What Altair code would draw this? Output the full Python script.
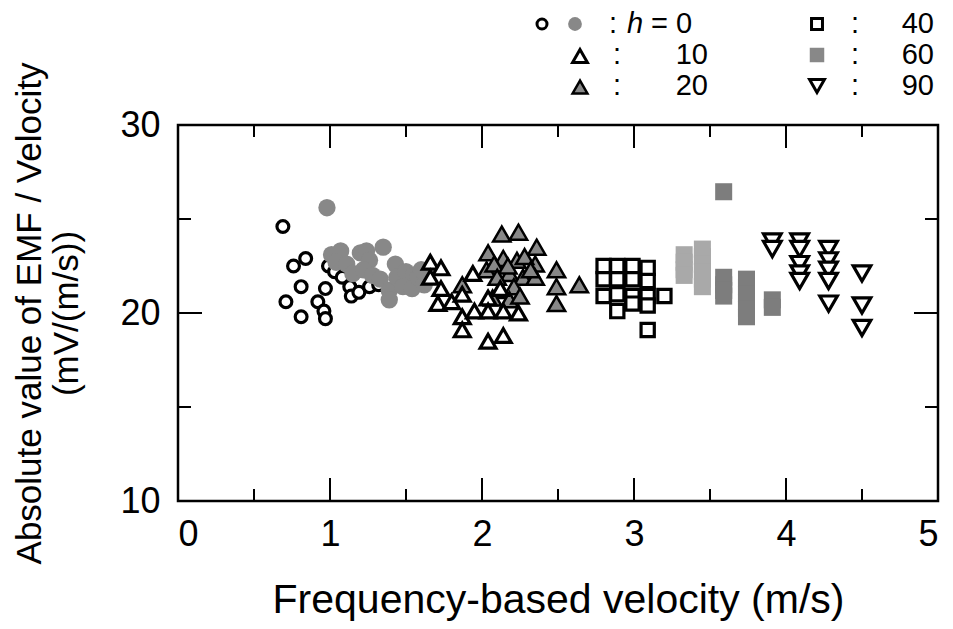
import altair as alt
import pandas as pd

FONT = "Liberation Sans"

# ---- data ----
h0_open_x = [0.69, 0.76, 0.84, 0.81, 0.71, 0.81, 0.97, 0.92, 0.96, 0.97, 0.99, 1.03, 1.08, 1.13, 1.14, 1.19, 1.26, 1.32]
h0_open_y = [24.6, 22.5, 22.9, 21.4, 20.6, 19.8, 21.3, 20.6, 20.1, 19.7, 22.5, 22.2, 21.9, 21.4, 20.9, 21.1, 21.4, 21.5]

h0_fill_x = [0.98, 1.01, 1.07, 1.04, 1.11, 1.15, 1.20, 1.24, 1.26, 1.35, 1.22, 1.28, 1.33, 1.39,
             1.43, 1.44, 1.50, 1.55, 1.48, 1.39, 1.54, 1.58, 1.62, 1.60]
h0_fill_y = [25.6, 23.1, 23.3, 22.7, 22.6, 22.1, 23.2, 23.3, 22.8, 23.5, 22.3, 22.0, 21.8, 21.2,
             22.6, 21.9, 22.2, 22.0, 21.4, 20.7, 21.3, 21.9, 21.5, 22.3]

h10_x = [1.66, 1.73, 1.66, 1.73, 1.71, 1.80, 1.94, 1.87, 1.87, 1.87, 1.95, 2.04, 2.04, 2.14, 2.24, 2.04, 2.14, 2.12]
h10_y = [22.7, 22.4, 21.9, 21.3, 20.5, 20.6, 22.1, 21.0, 19.8, 19.1, 20.1, 20.8, 20.1, 20.1, 20.0, 18.5, 18.8, 21.3]

h20_x = [2.13, 2.24, 2.36, 2.04, 2.14, 2.23, 2.35, 2.03, 2.18, 2.27, 2.35, 1.87, 2.21, 2.12, 2.07,
         2.18, 2.25, 2.49, 2.49, 2.49, 2.64, 2.08, 2.28, 2.32, 2.17, 2.10]
h20_y = [24.2, 24.3, 23.5, 23.2, 22.9, 22.8, 22.6, 22.3, 22.1, 21.9, 21.9, 21.5, 21.4, 21.2, 20.8,
         20.7, 20.9, 22.3, 21.4, 20.5, 21.5, 22.6, 23.0, 22.3, 22.5, 21.9]

h40_x = [2.80, 2.89, 2.99, 3.09, 2.80, 2.89, 2.99, 3.09, 2.80, 2.89, 2.99, 3.09, 3.20, 2.89, 2.99, 3.09, 3.09]
h40_y = [22.5, 22.5, 22.5, 22.4, 21.8, 21.8, 21.8, 21.7, 20.9, 21.0, 20.9, 20.9, 20.9, 20.1, 20.5, 20.4, 19.1]

h60_x = [3.33, 3.33, 3.33, 3.33, 3.45, 3.45, 3.45, 3.45, 3.45, 3.45, 3.59, 3.59, 3.59, 3.59, 3.59,
         3.74, 3.74, 3.74, 3.74, 3.74, 3.74, 3.91, 3.91]
h60_y = [23.1, 22.7, 22.3, 22.0, 23.4, 23.0, 22.6, 22.2, 21.8, 21.4, 26.45, 21.9, 21.5, 21.2, 20.9,
         21.8, 21.4, 21.0, 20.6, 20.2, 19.8, 20.7, 20.3]

h90_x = [3.91, 3.91, 4.09, 4.09, 4.09, 4.09, 4.09, 4.28, 4.28, 4.28, 4.28, 4.28, 4.50, 4.50, 4.50]
h90_y = [23.8, 23.4, 23.8, 23.4, 22.6, 22.1, 21.7, 23.4, 22.8, 22.3, 21.7, 20.5, 22.1, 20.4, 19.2]

x_ticks = [0, 1, 2, 3, 4, 5]
y_ticks = [10, 20, 30]
x_major = [1, 2, 3, 4]
x_minor = [0.5, 1.5, 2.5, 3.5, 4.5]
y_major = [20]
y_minor = [15, 25]

x_title = "Frequency-based velocity (m/s)"
y_title = ["Absolute value of EMF / Velocity", "(mV/(m/s))"]

W, H = 760, 376
GRAY = "#888888"

xs = alt.Scale(domain=[0, 5], nice=False, zero=False)
ys = alt.Scale(domain=[10, 30], nice=False, zero=False)

x_axis = alt.Axis(values=x_ticks, title=x_title, grid=False, ticks=False, domain=False,
                  labelFont=FONT, labelFontSize=36, labelColor="black", labelPadding=16,
                  titleFont=FONT, titleFontSize=41, titleFontWeight="normal", titleColor="black",
                  titleBaseline="alphabetic", titleY=111, titleX=W / 2)
y_axis = alt.Axis(values=y_ticks, title=y_title, grid=False, ticks=False, domain=False,
                  labelFont=FONT, labelFontSize=36, labelColor="black", labelPadding=18,
                  titleFont=FONT, titleFontSize=35, titleFontWeight="normal", titleColor="black",
                  titleAngle=270, titleAlign="center", titleBaseline="alphabetic",
                  titleX=-138, titleY=H / 2, titleLineHeight=37)


def pts(xv, yv):
    return pd.DataFrame({"x": xv, "y": yv})


def enc(ch):
    return ch.encode(
        x=alt.X("x:Q", scale=xs, axis=x_axis),
        y=alt.Y("y:Q", scale=ys, axis=y_axis),
    )


# inward ticks on all four sides
tick_layers = []
for vals, ln in ((x_major, 23), (x_minor, 12)):
    d = pd.DataFrame({"x": vals})
    tick_layers.append(alt.Chart(d).mark_rule(color="black", strokeWidth=2).encode(
        x=alt.X("x:Q", scale=xs, axis=x_axis), y=alt.value(H), y2=alt.value(H - ln)))
    tick_layers.append(alt.Chart(d).mark_rule(color="black", strokeWidth=2).encode(
        x=alt.X("x:Q", scale=xs, axis=x_axis), y=alt.value(0), y2=alt.value(ln)))
for vals, ln in ((y_major, 24), (y_minor, 13)):
    d = pd.DataFrame({"y": vals})
    tick_layers.append(alt.Chart(d).mark_rule(color="black", strokeWidth=2).encode(
        y=alt.Y("y:Q", scale=ys, axis=y_axis), x=alt.value(0), x2=alt.value(ln)))
    tick_layers.append(alt.Chart(d).mark_rule(color="black", strokeWidth=2).encode(
        y=alt.Y("y:Q", scale=ys, axis=y_axis), x=alt.value(W), x2=alt.value(W - ln)))

SW = 3.2
open_circ = enc(alt.Chart(pts(h0_open_x, h0_open_y)).mark_point(
    shape="circle", size=140, filled=True, fill="white", stroke="black", strokeWidth=SW, opacity=1))
fill_circ = enc(alt.Chart(pts(h0_fill_x, h0_fill_y)).mark_point(
    shape="circle", size=300, filled=True, fill=GRAY, strokeWidth=0, opacity=1))
gray_tri = enc(alt.Chart(pts(h20_x, h20_y)).mark_point(
    shape="triangle-up", size=300, filled=True, fill=GRAY, stroke="black", strokeWidth=2.5, opacity=1))
open_tri = enc(alt.Chart(pts(h10_x, h10_y)).mark_point(
    shape="triangle-up", size=250, filled=True, fill="white", stroke="black", strokeWidth=SW, opacity=1))
open_sq = enc(alt.Chart(pts(h40_x, h40_y)).mark_point(
    shape="square", size=175, filled=True, fill="white", stroke="black", strokeWidth=SW, opacity=1))
gray_sq = alt.Chart(pts(h60_x, h60_y)).mark_point(
    shape="square", size=290, filled=True, strokeWidth=0, opacity=1).encode(
    x=alt.X("x:Q", scale=xs, axis=x_axis),
    y=alt.Y("y:Q", scale=ys, axis=y_axis),
    fill=alt.condition(alt.datum.x < 3.5, alt.value("#a9a9a9"), alt.value("#7d7d7d")),
)
down_tri = enc(alt.Chart(pts(h90_x, h90_y)).mark_point(
    shape="triangle-down", size=310, filled=True, fill="white", stroke="black", strokeWidth=SW, opacity=1))

# ---- legend (top right, outside the frame) ----
one = pd.DataFrame({"a": [0]})
LX0, LY0 = 178, 125  # plot origin in page pixels


def sym(px, py, **kw):
    return alt.Chart(one).mark_point(opacity=1, filled=True, **kw).encode(
        x=alt.value(px - LX0), y=alt.value(py - LY0))


def txt(px, py, s, align="left", style="normal"):
    return alt.Chart(one).mark_text(text=s, font=FONT, fontSize=29, color="black", align=align,
                                    baseline="middle", fontStyle=style).encode(
        x=alt.value(px - LX0), y=alt.value(py - LY0))


rows = [24, 55, 86]
legend = [
    sym(542, rows[0], shape="circle", size=100, fill="white", stroke="black", strokeWidth=3),
    sym(575, rows[0], shape="circle", size=190, fill=GRAY, strokeWidth=0),
    txt(613, rows[0], ":", align="center"),
    txt(627, rows[0], "h", style="italic"),
    txt(651, rows[0], "= 0"),
    sym(580, rows[1] + 1, shape="triangle-up", size=220, fill="white", stroke="black", strokeWidth=3),
    txt(617, rows[1], ":", align="center"),
    txt(708, rows[1], "10", align="right"),
    sym(580, rows[2] + 1, shape="triangle-up", size=220, fill=GRAY, stroke="black", strokeWidth=2.5),
    txt(617, rows[2], ":", align="center"),
    txt(708, rows[2], "20", align="right"),
    sym(817, rows[0], shape="square", size=120, fill="white", stroke="black", strokeWidth=3),
    txt(855, rows[0], ":", align="center"),
    txt(934, rows[0], "40", align="right"),
    sym(817, rows[1], shape="square", size=210, fill=GRAY, strokeWidth=0),
    txt(855, rows[1], ":", align="center"),
    txt(934, rows[1], "60", align="right"),
    sym(817, rows[2], shape="triangle-down", size=220, fill="white", stroke="black", strokeWidth=3),
    txt(855, rows[2], ":", align="center"),
    txt(934, rows[2], "90", align="right"),
]

chart = alt.layer(
    *tick_layers, open_circ, fill_circ, gray_tri, open_tri, open_sq, gray_sq, down_tri, *legend
).properties(
    width=W, height=H,
    autosize=alt.AutoSizeParams(type="none"),
    padding={"left": 178, "top": 125, "right": 15, "bottom": 128},
    background="white",
).configure_view(stroke="black", strokeWidth=2.5)

chart.save("out.html", embed_options={"renderer": "svg", "actions": False})
